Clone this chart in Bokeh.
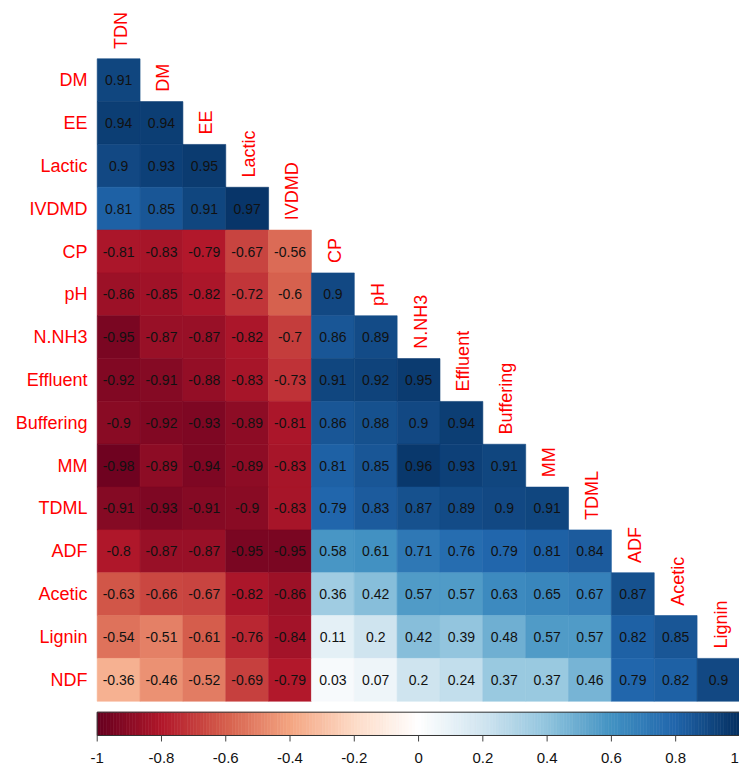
import numpy as np
from bokeh.plotting import figure
from bokeh.models import Range1d, LinearColorMapper, ColumnDataSource
from bokeh.core.properties import value
from bokeh.embed import file_html
from bokeh.resources import INLINE

# ---------------- data ----------------
variables = ["TDN", "DM", "EE", "Lactic", "IVDMD", "CP", "pH", "N.NH3",
             "Effluent", "Buffering", "MM", "TDML", "ADF", "Acetic", "Lignin", "NDF"]

r_DM = [0.91]
r_EE = [0.94, 0.94]
r_Lactic = [0.9, 0.93, 0.95]
r_IVDMD = [0.81, 0.85, 0.91, 0.97]
r_CP = [-0.81, -0.83, -0.79, -0.67, -0.56]
r_pH = [-0.86, -0.85, -0.82, -0.72, -0.6, 0.9]
r_NNH3 = [-0.95, -0.87, -0.87, -0.82, -0.7, 0.86, 0.89]
r_Effluent = [-0.92, -0.91, -0.88, -0.83, -0.73, 0.91, 0.92, 0.95]
r_Buffering = [-0.9, -0.92, -0.93, -0.89, -0.81, 0.86, 0.88, 0.9, 0.94]
r_MM = [-0.98, -0.89, -0.94, -0.89, -0.83, 0.81, 0.85, 0.96, 0.93, 0.91]
r_TDML = [-0.91, -0.93, -0.91, -0.9, -0.83, 0.79, 0.83, 0.87, 0.89, 0.9, 0.91]
r_ADF = [-0.8, -0.87, -0.87, -0.95, -0.95, 0.58, 0.61, 0.71, 0.76, 0.79, 0.81, 0.84]
r_Acetic = [-0.63, -0.66, -0.67, -0.82, -0.86, 0.36, 0.42, 0.57, 0.57, 0.63, 0.65, 0.67, 0.87]
r_Lignin = [-0.54, -0.51, -0.61, -0.76, -0.84, 0.11, 0.2, 0.42, 0.39, 0.48, 0.57, 0.57, 0.82, 0.85]
r_NDF = [-0.36, -0.46, -0.52, -0.69, -0.79, 0.03, 0.07, 0.2, 0.24, 0.37, 0.37, 0.46, 0.79, 0.82, 0.9]

rows = [r_DM, r_EE, r_Lactic, r_IVDMD, r_CP, r_pH, r_NNH3, r_Effluent, r_Buffering,
        r_MM, r_TDML, r_ADF, r_Acetic, r_Lignin, r_NDF]

colorbar_ticks = [-1, -0.8, -0.6, -0.4, -0.2, 0, 0.2, 0.4, 0.6, 0.8, 1]
colorbar_tick_labels = ["-1", "-0.8", "-0.6", "-0.4", "-0.2", "0", "0.2", "0.4", "0.6", "0.8", "1"]

# ---------------- palette (RdBu, 200 colours, linear RGB ramp) ----------------
anchors = ["#67001F", "#B2182B", "#D6604D", "#F4A582", "#FDDBC7", "#FFFFFF",
           "#D1E5F0", "#92C5DE", "#4393C3", "#2166AC", "#053061"]
anc_rgb = np.array([[int(c[k:k + 2], 16) for k in (1, 3, 5)] for c in anchors], dtype=float)
t_anc = np.linspace(0, 1, len(anchors))
t = np.linspace(0, 1, 200)
palette = []
for tt in t:
    rgb = [int(round(np.interp(tt, t_anc, anc_rgb[:, k]))) for k in range(3)]
    palette.append("#%02x%02x%02x" % tuple(rgb))
mapper = LinearColorMapper(palette=palette, low=-1, high=1)

# ---------------- layout ----------------
n_rows = len(rows)
font = value("Liberation Sans")

p = figure(width=739, height=769,
           x_range=Range1d(-2.257, 14.99), y_range=Range1d(-1.594, 16.361),
           x_axis_type=None, y_axis_type=None,
           output_backend="svg", toolbar_location=None, min_border=0)
p.grid.visible = False
p.outline_line_color = None

xs, ys, vals, labs = [], [], [], []
for i, row in enumerate(rows):
    for j, v in enumerate(row):
        xs.append(j + 0.5)
        ys.append(n_rows - i - 0.5)
        vals.append(v)
        labs.append(str(v))
src = ColumnDataSource(dict(x=xs, y=ys, v=vals, lab=labs))

p.rect(x="x", y="y", width=1, height=1, source=src,
       fill_color={"field": "v", "transform": mapper},
       line_color={"field": "v", "transform": mapper}, line_width=0.6)
p.text(x="x", y="y", text="lab", source=src, text_align="center", text_baseline="middle",
       text_font=font, text_font_size="14px", text_color="#111111")

# row labels
p.text(x=[-0.226] * n_rows, y=[n_rows - i - 0.5 for i in range(n_rows)], text=variables[1:],
       text_align="right", text_baseline="middle", text_font=font,
       text_font_size="18px", text_color="#FF0000")

# column labels
p.text(x=[j + 0.5 for j in range(n_rows)], y=[n_rows - j + 0.23 for j in range(n_rows)],
       text=variables[:n_rows], angle=np.pi / 2, x_offset=2,
       text_align="left", text_baseline="middle", text_font=font,
       text_font_size="18px", text_color="#FF0000")

# colour bar
cb_top, cb_bot, tick_end, lab_y = -0.256, -0.80, -0.94, -1.337
edges = np.linspace(-1, 1, len(palette) + 1)
to_x = lambda v: (np.asarray(v, dtype=float) + 1) / 2 * n_rows
p.quad(left=to_x(edges[:-1]), right=to_x(edges[1:]), bottom=cb_bot, top=cb_top,
       fill_color=palette, line_color=palette, line_width=0.6)
p.quad(left=to_x(-1), right=to_x(1), bottom=cb_bot, top=cb_top,
       fill_color=None, line_color="#333333", line_width=1)
tx = to_x(colorbar_ticks)
p.segment(x0=tx, y0=[cb_bot] * len(tx), x1=tx, y1=[tick_end] * len(tx),
          line_color="#444444", line_width=1)
aligns = ["center"] * (len(tx) - 1) + ["right"]
offs = [0] * (len(tx) - 1) + [-1]
cb_src = ColumnDataSource(dict(x=tx, y=[lab_y] * len(tx), t=colorbar_tick_labels,
                               a=aligns, o=offs))
p.text(x="x", y="y", text="t", source=cb_src, text_align="a", x_offset="o",
       text_baseline="middle", text_font=font, text_font_size="15px", text_color="#111111")

open("out.html", "w").write(file_html(p, INLINE))
